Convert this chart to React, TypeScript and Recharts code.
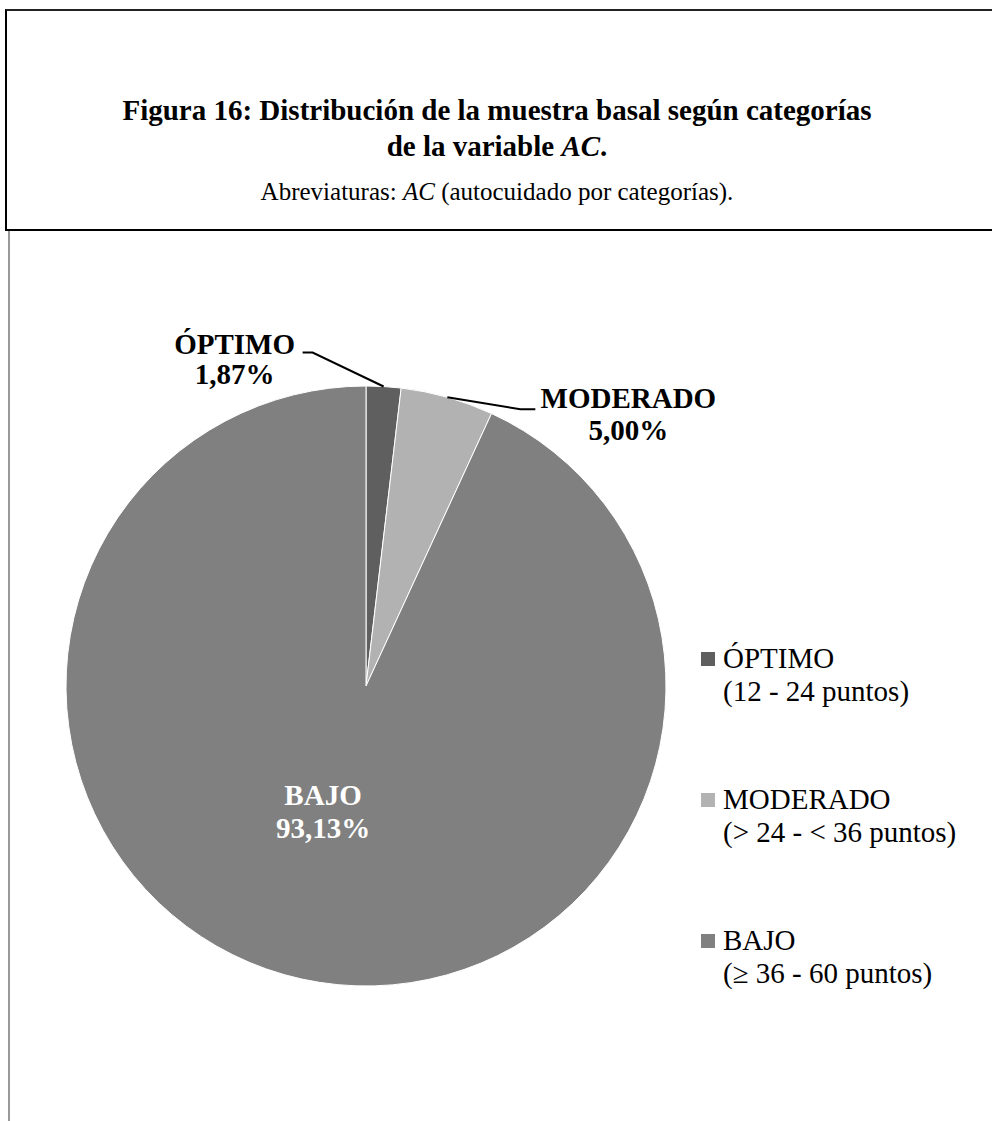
import React from 'react';
import { PieChart, Pie, Cell, Legend } from 'recharts';

const categories = ['ÓPTIMO', 'MODERADO', 'BAJO'];
const percentages = [1.87, 5.0, 93.13];
const ranges = ['(12 - 24 puntos)', '(> 24 - < 36 puntos)', '(≥ 36 - 60 puntos)'];
const colors = ['#5f5f5f', '#b2b2b2', '#808080'];

const data = categories.map((name, i) => ({ name, value: percentages[i], range: ranges[i] }));

const FONT = '"Liberation Serif", "Times New Roman", serif';

// label placement relative to the slice's outer edge point (outside) or the centre (inside)
const labelLayout = [
  { inside: false, elbow: [-71, -34], end: [-81, -34], text: [-149, -33], gap: 30, color: '#000' },
  { inside: false, elbow: [73, 12], end: [88, 12], text: [181, 11], gap: 32, color: '#000' },
  { inside: true, radius: 140, text: [-13, -18], gap: 33, color: '#fff' },
];

const fmt = (v: number) => v.toFixed(2).replace('.', ',') + '%';

const RAD = Math.PI / 180;

function renderLabel(props: any) {
  const { cx, cy, midAngle, outerRadius, index } = props;
  const lay: any = labelLayout[index];
  const cos = Math.cos(-midAngle * RAD);
  const sin = Math.sin(-midAngle * RAD);
  const name = categories[index];
  const val = fmt(percentages[index]);
  if (lay.inside) {
    const x = cx + lay.radius * cos + lay.text[0];
    const y = cy + lay.radius * sin + lay.text[1];
    return (
      <g key={`lab-${index}`}>
        <text x={x} y={y} textAnchor="middle" fill={lay.color} fontFamily={FONT} fontWeight="bold" fontSize={29}>
          <tspan x={x} dy={0}>{name}</tspan>
          <tspan x={x} dy={lay.gap}>{val}</tspan>
        </text>
      </g>
    );
  }
  const px = cx + outerRadius * cos;
  const py = cy + outerRadius * sin;
  const tx = px + lay.text[0];
  const ty = py + lay.text[1];
  return (
    <g key={`lab-${index}`}>
      <polyline
        points={`${px},${py} ${px + lay.elbow[0]},${py + lay.elbow[1]} ${px + lay.end[0]},${py + lay.end[1]}`}
        fill="none"
        stroke="#000"
        strokeWidth={2}
      />
      <text x={tx} y={ty} textAnchor="middle" fill={lay.color} fontFamily={FONT} fontWeight="bold" fontSize={29}>
        <tspan x={tx} dy={0}>{name}</tspan>
        <tspan x={tx} dy={lay.gap}>{val}</tspan>
      </text>
    </g>
  );
}

function LegendContent() {
  return (
    <div style={{ fontFamily: FONT, fontSize: 29, color: '#000' }}>
      {categories.map((name, i) => (
        <div key={name} style={{ position: 'relative', height: 141, paddingLeft: 22, lineHeight: '33px' }}>
          <span
            style={{
              position: 'absolute',
              left: 0,
              top: 10,
              width: 14,
              height: 14,
              background: colors[i],
            }}
          />
          <div>{name}</div>
          <div>{ranges[i]}</div>
        </div>
      ))}
    </div>
  );
}

export default function App() {
  return (
    <div style={{ position: 'absolute', left: 0, top: 0, width: 992, height: 1121, overflow: 'hidden', background: '#fff' }}>
      <div
        style={{
          position: 'absolute',
          left: 8,
          top: 229,
          width: 990,
          height: 900,
          borderLeft: '2px solid #999',
          borderTop: '1px solid #aaa',
        }}
      />
      <div style={{ position: 'absolute', left: 0, top: 0 }}>
        <PieChart width={992} height={1121} margin={{ top: 0, right: 0, bottom: 0, left: 0 }}>
          <Pie
            data={data}
            dataKey="value"
            nameKey="name"
            cx={366}
            cy={686}
            outerRadius={300}
            startAngle={90}
            endAngle={-270}
            stroke="#fff"
            strokeWidth={1}
            label={renderLabel}
            labelLine={false}
            isAnimationActive={false}
          >
            {data.map((d, i) => (
              <Cell key={d.name} fill={colors[i]} />
            ))}
          </Pie>
          <Legend
            layout="vertical"
            content={<LegendContent />}
            wrapperStyle={{ position: 'absolute', left: 701, top: 642, width: 290 }}
          />
        </PieChart>
      </div>
      <div
        style={{
          position: 'absolute',
          left: 5,
          top: 9,
          width: 1000,
          height: 218,
          borderLeft: '2px solid #000',
          borderTop: '2px solid #222',
          borderBottom: '2px solid #000',
          background: '#fff',
          fontFamily: FONT,
          textAlign: 'center',
          boxSizing: 'content-box',
        }}
      >
        <div style={{ width: 980, position: 'absolute', left: 0, top: 81, fontWeight: 'bold', fontSize: 29, lineHeight: '36px' }}>
          Figura 16: Distribución de la muestra basal según categorías
          <br />
          de la variable <i>AC</i>.
        </div>
        <div style={{ width: 980, position: 'absolute', left: 0, top: 167, fontSize: 25, lineHeight: '28px' }}>
          Abreviaturas: <i>AC</i> (autocuidado por categorías).
        </div>
      </div>
    </div>
  );
}
